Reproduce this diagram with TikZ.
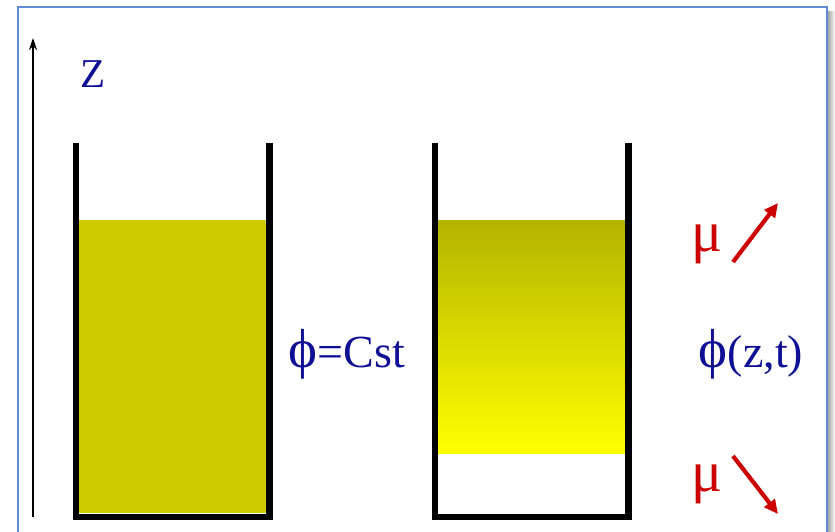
\documentclass[tikz,border=0pt]{standalone}
\usepackage{fontspec}
\setmainfont{Liberation Serif}
\usetikzlibrary{arrows.meta}
\definecolor{txtblue}{RGB}{15,15,150}
\definecolor{frameblue}{RGB}{95,140,210}
\definecolor{fluidA}{RGB}{206,204,0}
\definecolor{olive}{RGB}{180,180,0}
\definecolor{brightY}{RGB}{255,255,0}
\definecolor{muRed}{RGB}{204,0,0}
\newcommand{\bigphi}{{\fontsize{55}{60}\selectfont ϕ}}
\tikzset{
  wall/.style={line width=6.5pt, miter limit=10, line join=miter, black},
  lbl/.style={text=txtblue, font=\fontsize{46}{52}\selectfont, inner sep=0pt, anchor=base},
  mulbl/.style={text=muRed, font=\fontsize{58}{64}\selectfont, inner sep=0pt},
  muarrow/.style={draw=muRed, line width=4.2pt, -{Triangle[length=14pt,width=13pt]}},
}
\begin{document}
\begin{tikzpicture}[x=1pt,y=-1pt]
\useasboundingbox (0,0) rectangle (835,532);
% shadow and frame
\shade[left color=black!35, right color=white] (828,12) rectangle (835,532);
\draw[frameblue, line width=1.5pt] (18,532) -- (18,7) -- (827,7) -- (827,532);
% z axis
\coordinate (zb) at (33,517);
\coordinate (zt) at (33,38);
\draw[line width=1.3pt, -{Stealth[length=12pt,width=8pt]}] (zb) -- (zt);
\node[lbl, font=\fontsize{41}{48}\selectfont] (zlab) at (93,88) {Z};
% left beaker
\fill[fluidA] (79,220) rectangle (266,513);
\draw[wall] (76,143) -- (76,517) -- (269.5,517) -- (269.5,143);
% right beaker
\shade[top color=olive, bottom color=brightY, middle color=olive!50!brightY] (438,220) rectangle (625,453);
\draw[wall] (435,143) -- (435,517) -- (628.5,517) -- (628.5,143);
% labels
\node[lbl] (cst) at (347,367) {\bigphi=Cst};
\node[lbl] (phizt) at (751,367) {\bigphi(z,t)};
\node[mulbl] (mu1) at (707,244) {μ};
\node[mulbl] (mu2) at (707,484) {μ};
\coordinate (a1s) at (733,262);
\coordinate (a1e) at (778,203);
\coordinate (a2s) at (733,456);
\coordinate (a2e) at (778,514);
\draw[muarrow] (a1s) -- (a1e);
\draw[muarrow] (a2s) -- (a2e);
\end{tikzpicture}
\end{document}
